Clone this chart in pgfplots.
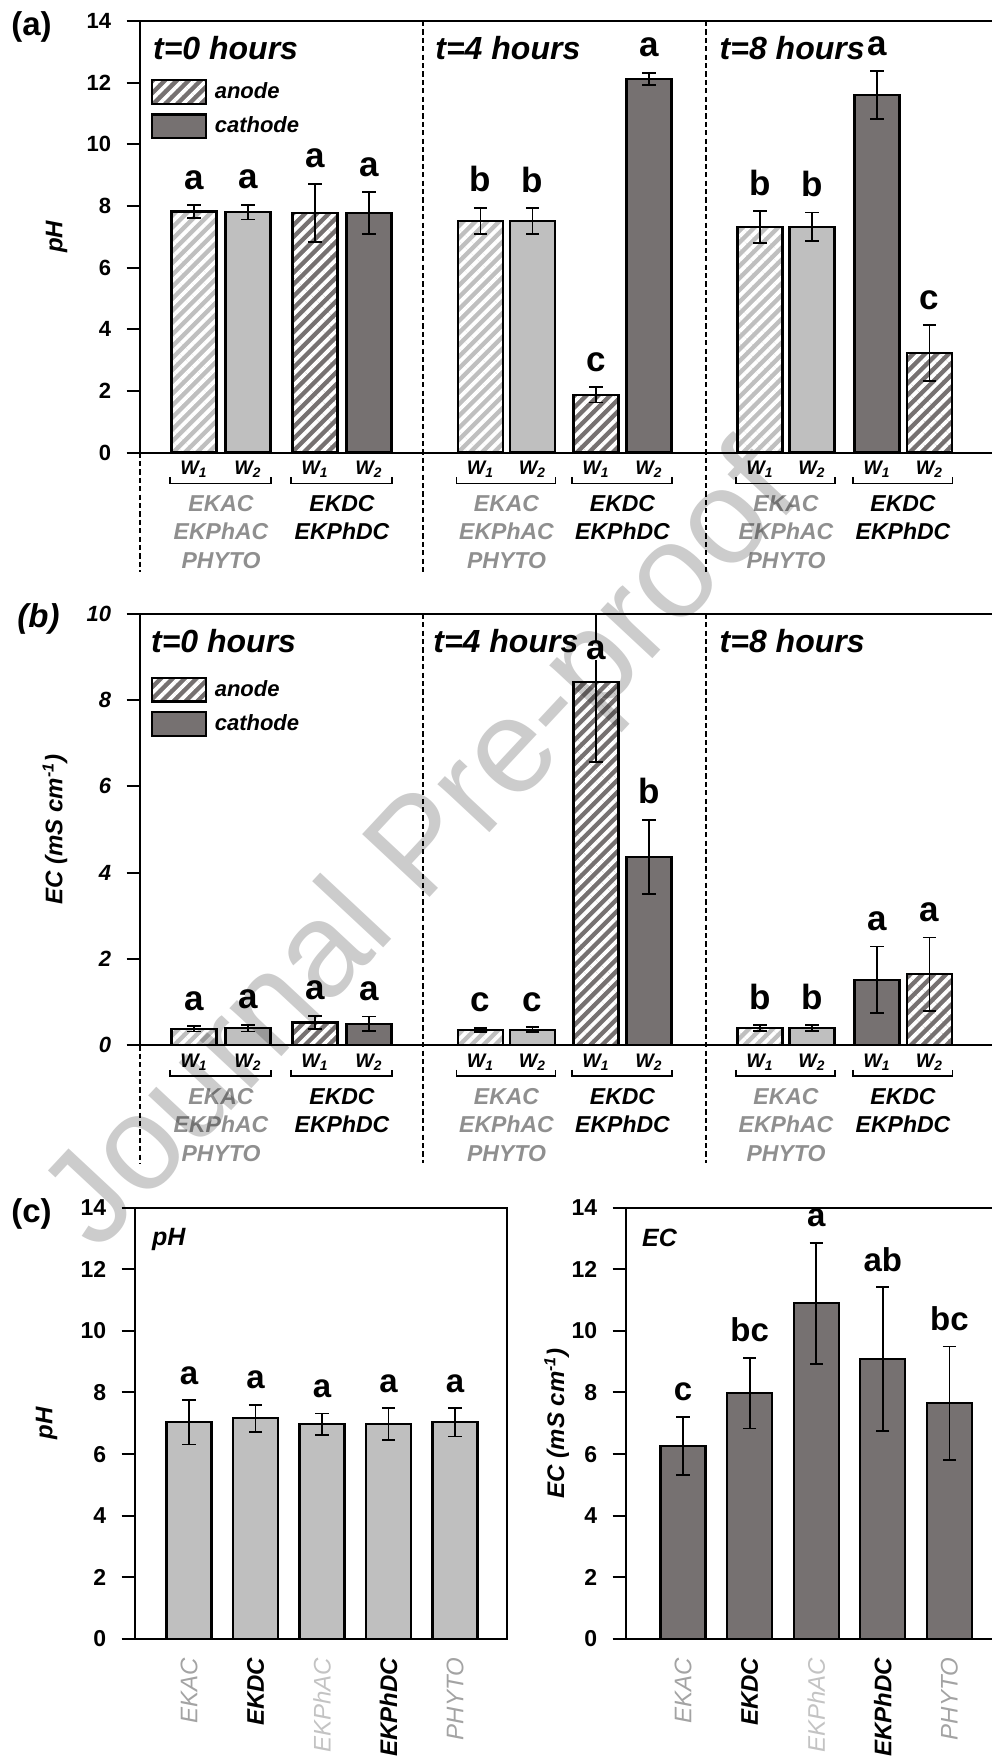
\documentclass[border=0pt]{standalone}
\usepackage{pgfplots}
\usepackage{pgfplotstable}
\pgfplotsset{compat=1.18}
\usepackage{fontspec}
\setmainfont{Liberation Sans}
\usetikzlibrary{patterns.meta}

\definecolor{lightg}{HTML}{BFBFBF}
\definecolor{darkg}{HTML}{767171}
\definecolor{txtg}{HTML}{8F8F8F}
\definecolor{xga}{HTML}{A3A3A3}
\definecolor{xgb}{HTML}{C3C3C3}

\tikzset{
  hatchpat/.style={pattern={Lines[angle=45,distance=4.2pt,line width=1.9pt]},pattern color=white},
  dashline/.style={black,line width=0.9pt,dash pattern=on 2.6pt off 1.6pt},
  lett/.style={anchor=base,yshift=8pt,inner sep=0pt,font=\fontsize{17.5}{19}\selectfont\bfseries},
  lettc/.style={anchor=base,yshift=8pt,inner sep=0pt,font=\fontsize{16.5}{18}\selectfont\bfseries},
  wl/.style={anchor=base,yshift=-10.85pt,inner sep=0pt,font=\fontsize{9.8}{11}\selectfont\bfseries\itshape},
  gl/.style={anchor=base,inner sep=0pt,font=\fontsize{11.5}{13}\selectfont\bfseries\itshape},
  ttl/.style={anchor=west,inner sep=0pt,font=\fontsize{16}{18}\selectfont\bfseries\itshape},
}

\pgfplotsset{
  base/.style={ybar, bar width=22.5pt, bar shift=0pt, forget plot},
  bars/.style={base, draw=black, line width=1.1pt,
    error bars/y dir=both, error bars/y explicit,
    error bars/error bar style={line width=0.9pt,black,solid},
    error bars/error mark options={rotate=90,mark size=3.3pt,line width=0.9pt,black}},
  LF/.style={base, fill=lightg, draw=none},
  DF/.style={base, fill=darkg, draw=none},
  HP/.style={bars, hatchpat},
  LS/.style={bars, fill=lightg},
  DS/.style={bars, fill=darkg},
  panel/.style={scale only axis, clip=false, anchor=south west,
    axis line style={line width=1pt},
    tick align=outside, major tick length=6.7pt, tick style={black,line width=1pt},
    ytick pos=left, yticklabel style={inner sep=0pt}, yticklabel shift=7.5pt,
    /pgf/number format/assume math mode=true},
}

\newcommand{\grpA}[1]{%
  \node[gl,text=txtg,yshift=-29.35pt] at (axis cs:#1,0) {EKAC};
  \node[gl,text=txtg,yshift=-43.6pt] at (axis cs:#1,0) {EKPhAC};
  \node[gl,text=txtg,yshift=-57.95pt] at (axis cs:#1,0) {PHYTO};}
\newcommand{\grpB}[1]{%
  \node[gl,yshift=-29.35pt] at (axis cs:#1,0) {EKDC};
  \node[gl,yshift=-43.6pt] at (axis cs:#1,0) {EKPhDC};}
\newcommand{\brk}[4]{%
  \node[wl] at (axis cs:#1,0) {W\textsubscript{1}};
  \node[wl] at (axis cs:#2,0) {W\textsubscript{2}};
  \draw[line width=0.9pt] ([yshift=-12.25pt]axis cs:#3,0) -- ([yshift=-15.5pt]axis cs:#3,0) -- ([yshift=-15.5pt]axis cs:#4,0) -- ([yshift=-12.25pt]axis cs:#4,0);}
\newcommand{\allgroups}{%
  \brk{54}{108}{30}{131}\brk{175}{229}{151}{252}%
  \brk{340.5}{392.5}{316.5}{415.5}\brk{456}{509}{432}{532}%
  \brk{620}{672}{596}{695}\brk{737}{789.5}{713}{812.5}%
  \grpA{81}\grpB{202}\grpA{366.5}\grpB{482.5}\grpA{646}\grpB{763}}

% ---------- data ----------
\pgfplotstableread{
x y e
54 7.82 0.20
340.5 7.51 0.43
620 7.32 0.51
}\aLH
\pgfplotstableread{
x y e
108 7.80 0.24
392.5 7.51 0.42
672 7.32 0.47
}\aLS
\pgfplotstableread{
x y e
175 7.77 0.95
456 1.87 0.25
789.5 3.22 0.91
}\aDH
\pgfplotstableread{
x y e
229 7.77 0.67
509 12.12 0.20
737 11.59 0.78
}\aDS

\pgfplotstableread{
x y e
54 0.38 0.06
340.5 0.36 0.05
620 0.40 0.07
}\bLH
\pgfplotstableread{
x y e
108 0.40 0.08
392.5 0.36 0.06
672 0.40 0.07
}\bLS
\pgfplotstableread{
x y ep em
175 0.53 0.15 0.15
456 8.42 1.58 1.85
789.5 1.65 0.85 0.85
}\bDH
\pgfplotstableread{
x y e
229 0.50 0.17
509 4.37 0.86
737 1.52 0.77
}\bDS

\pgfplotstableread{
x y e
1 7.03 0.72
2 7.16 0.44
3 6.97 0.35
4 6.97 0.52
5 7.03 0.46
}\cpH
\pgfplotstableread{
x y e
1 6.26 0.95
2 7.98 1.15
3 10.89 1.96
4 9.09 2.33
5 7.65 1.84
}\cEC

\begin{document}
\begin{tikzpicture}

% ================= (a) =================
\begin{axis}[panel, at={(70pt,-226.25pt)}, width=430pt, height=215.75pt,
  xmin=0, xmax=860, ymin=0, ymax=14, xtick=\empty, ytick={0,2,...,14},
  yticklabel style={font=\fontsize{11}{13}\selectfont\bfseries},
  ylabel={pH},
  ylabel style={at={(axis description cs:-0.0969,0.5)}, anchor=center, font=\fontsize{12}{14}\selectfont\bfseries\itshape},
  legend style={at={(axis description cs:0.0128,0.8658)}, anchor=north west, draw=none, fill=none,
    inner sep=0pt, outer sep=0pt, row sep=4.3pt, column sep=3.8pt,
    font=\fontsize{11}{13}\selectfont\bfseries\itshape, nodes={inner sep=0pt}},
  legend cell align=left]
\addlegendimage{legend image code/.code={\fill[darkg] (0pt,-5.9pt) rectangle (27pt,5.9pt);\fill[hatchpat] (0pt,-5.9pt) rectangle (27pt,5.9pt);\draw[line width=1.1pt] (0pt,-5.9pt) rectangle (27pt,5.9pt);}}
\addlegendentry{anode}
\addlegendimage{legend image code/.code={\draw[fill=darkg,line width=1.1pt] (0pt,-5.9pt) rectangle (27pt,5.9pt);}}
\addlegendentry{cathode}
\addplot[LF] table[x=x,y=y] {\aLH};
\addplot[HP] table[x=x,y=y,y error=e] {\aLH};
\addplot[LS] table[x=x,y=y,y error=e] {\aLS};
\addplot[DF] table[x=x,y=y] {\aDH};
\addplot[HP] table[x=x,y=y,y error=e] {\aDH};
\addplot[DS] table[x=x,y=y,y error=e] {\aDS};
\draw[dashline] (axis cs:282.7,14) -- ([yshift=-59.5pt]axis cs:282.7,0);
\draw[dashline] (axis cs:566,14) -- ([yshift=-59.5pt]axis cs:566,0);
\draw[dashline] (axis cs:0,0) -- ([yshift=-59.5pt]axis cs:0,0);
\node[ttl] at (axis cs:12.7,13.13) {t=0 hours};
\node[ttl] at (axis cs:295,13.13) {t=4 hours};
\node[ttl] at (axis cs:579.3,13.13) {t=8 hours};
\node[lett] at (axis cs:54,8.02) {a};
\node[lett] at (axis cs:108,8.04) {a};
\node[lett] at (axis cs:175,8.72) {a};
\node[lett] at (axis cs:229,8.44) {a};
\node[lett] at (axis cs:340.5,7.94) {b};
\node[lett] at (axis cs:392.5,7.93) {b};
\node[lett] at (axis cs:456,2.12) {c};
\node[lett] at (axis cs:509,12.32) {a};
\node[lett] at (axis cs:620,7.83) {b};
\node[lett] at (axis cs:672,7.79) {b};
\node[lett] at (axis cs:737,12.37) {a};
\node[lett] at (axis cs:789.5,4.13) {c};
\allgroups
\end{axis}

% ================= (b) =================
\begin{axis}[panel, at={(70pt,-522.65pt)}, width=430pt, height=215.75pt,
  xmin=0, xmax=860, ymin=0, ymax=10, xtick=\empty, ytick={0,2,...,10},
  yticklabel style={font=\fontsize{11}{13}\selectfont\bfseries\itshape},
  ylabel={EC (mS cm\textsuperscript{-1})},
  ylabel style={at={(axis description cs:-0.0988,0.5)}, anchor=center, font=\fontsize{12}{14}\selectfont\bfseries\itshape},
  legend style={at={(axis description cs:0.0128,0.854)}, anchor=north west, draw=none, fill=none,
    inner sep=0pt, outer sep=0pt, row sep=4.3pt, column sep=3.8pt,
    font=\fontsize{11}{13}\selectfont\bfseries\itshape, nodes={inner sep=0pt}},
  legend cell align=left]
\addlegendimage{legend image code/.code={\fill[darkg] (0pt,-5.9pt) rectangle (27pt,5.9pt);\fill[hatchpat] (0pt,-5.9pt) rectangle (27pt,5.9pt);\draw[line width=1.1pt] (0pt,-5.9pt) rectangle (27pt,5.9pt);}}
\addlegendentry{anode}
\addlegendimage{legend image code/.code={\draw[fill=darkg,line width=1.1pt] (0pt,-5.9pt) rectangle (27pt,5.9pt);}}
\addlegendentry{cathode}
\addplot[LF] table[x=x,y=y] {\bLH};
\addplot[HP] table[x=x,y=y,y error=e] {\bLH};
\addplot[LS] table[x=x,y=y,y error=e] {\bLS};
\addplot[DF] table[x=x,y=y] {\bDH};
\addplot[HP] table[x=x,y=y,y error plus=ep,y error minus=em] {\bDH};
\addplot[DS] table[x=x,y=y,y error=e] {\bDS};
\draw[dashline] (axis cs:282.7,10) -- ([yshift=-59pt]axis cs:282.7,0);
\draw[dashline] (axis cs:566,10) -- ([yshift=-59pt]axis cs:566,0);
\draw[dashline] (axis cs:0,0) -- ([yshift=-59pt]axis cs:0,0);
\node[ttl] at (axis cs:10.7,9.38) {t=0 hours};
\node[ttl] at (axis cs:293,9.38) {t=4 hours};
\node[ttl] at (axis cs:579.3,9.38) {t=8 hours};
\node[lett] at (axis cs:54,0.44) {a};
\node[lett] at (axis cs:108,0.48) {a};
\node[lett] at (axis cs:175,0.68) {a};
\node[lett] at (axis cs:229,0.67) {a};
\node[lett] at (axis cs:340.5,0.41) {c};
\node[lett] at (axis cs:392.5,0.42) {c};
\node[lett,yshift=-8pt,fill=white] at (axis cs:456,8.93) {a};
\node[lett] at (axis cs:509,5.23) {b};
\node[lett] at (axis cs:620,0.47) {b};
\node[lett] at (axis cs:672,0.47) {b};
\node[lett] at (axis cs:737,2.29) {a};
\node[lett] at (axis cs:789.5,2.50) {a};
\allgroups
\end{axis}

% ================= (c) left =================
\begin{axis}[panel, at={(67.5pt,-819.5pt)}, width=186.15pt, height=215.75pt,
  xmin=0.188, xmax=5.786, ymin=0, ymax=14, ytick={0,2,...,14},
  xtick={1,2,3,4,5}, xtick style={draw=none},
  xticklabels={{\color{xga}EKAC},{\bfseries EKDC},{\color{xgb}EKPhAC},{\bfseries EKPhDC},{\color{xga}PHYTO}},
  xticklabel style={rotate=90, anchor=east, inner sep=0pt, font=\fontsize{12}{14}\selectfont\itshape},
  xticklabel shift=2.5pt,
  yticklabel style={font=\fontsize{11.5}{13}\selectfont\bfseries},
  ylabel={pH},
  ylabel style={at={(axis description cs:-0.2372,0.5)}, anchor=center, font=\fontsize{12}{14}\selectfont\bfseries\itshape}]
\addplot[LS] table[x=x,y=y,y error=e] {\cpH};
\node[anchor=west,inner sep=0pt,font=\fontsize{12.5}{14}\selectfont\bfseries\itshape] at (axis cs:0.439,12.95) {pH};
\node[lettc] at (axis cs:1,7.75) {a};
\node[lettc] at (axis cs:2,7.60) {a};
\node[lettc] at (axis cs:3,7.32) {a};
\node[lettc] at (axis cs:4,7.49) {a};
\node[lettc] at (axis cs:5,7.49) {a};
\end{axis}

% ================= (c) right =================
\begin{axis}[panel, at={(313pt,-819.5pt)}, width=187pt, height=215.75pt,
  xmin=0.144, xmax=5.76, ymin=0, ymax=14, ytick={0,2,...,14},
  xtick={1,2,3,4,5}, xtick style={draw=none},
  xticklabels={{\color{xga}EKAC},{\bfseries EKDC},{\color{xgb}EKPhAC},{\bfseries EKPhDC},{\color{xga}PHYTO}},
  xticklabel style={rotate=90, anchor=east, inner sep=0pt, font=\fontsize{12}{14}\selectfont\itshape},
  xticklabel shift=2.5pt,
  yticklabel style={font=\fontsize{11.5}{13}\selectfont\bfseries},
  ylabel={EC (mS cm\textsuperscript{-1})},
  ylabel style={at={(axis description cs:-0.1853,0.5)}, anchor=center, font=\fontsize{12}{14}\selectfont\bfseries\itshape}]
\addplot[DS] table[x=x,y=y,y error=e] {\cEC};
\node[anchor=west,inner sep=0pt,font=\fontsize{12.5}{14}\selectfont\bfseries\itshape] at (axis cs:0.38,13.0) {EC};
\node[lettc] at (axis cs:1,7.21) {c};
\node[lettc] at (axis cs:2,9.13) {bc};
\node[lettc] at (axis cs:3,12.85) {a};
\node[lettc] at (axis cs:4,11.42) {ab};
\node[lettc] at (axis cs:5,9.49) {bc};
\end{axis}

% panel labels
\node[font=\fontsize{16.5}{18}\selectfont\bfseries] at (15.75pt,-13.4pt) {(a)};
\node[font=\fontsize{16.5}{18}\selectfont\bfseries\itshape] at (19.25pt,-309.65pt) {(b)};
\node[font=\fontsize{16.5}{18}\selectfont\bfseries] at (15.75pt,-606.8pt) {(c)};

% watermark
\node[rotate=47, text=black, opacity=0.2, font=\fontsize{67}{70}\selectfont] at (212.75pt,-425.75pt) {Journal Pre-proof};

\pgfresetboundingbox
\useasboundingbox (0pt,0pt) rectangle (495.5pt,-880pt);
\end{tikzpicture}
\end{document}
